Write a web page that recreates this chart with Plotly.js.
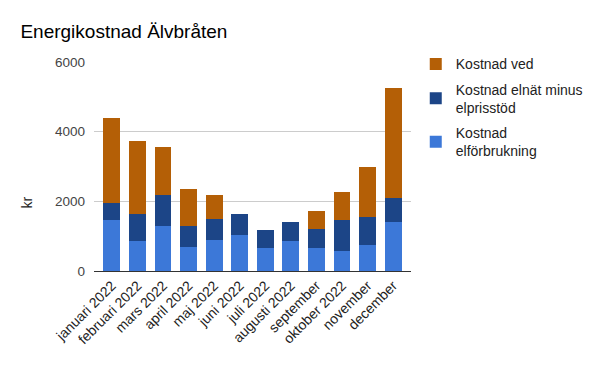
<!DOCTYPE html>
<html><head><meta charset="utf-8">
<script src="https://cdn.plot.ly/plotly-3.0.1.min.js"></script>
<style>body{margin:0;}#chart{width:600px;height:371px;}</style>
</head><body><div id="chart"></div>
<script>
const months = ["januari 2022","februari 2022","mars 2022","april 2022","maj 2022","juni 2022","juli 2022","augusti 2022","september","oktober 2022","november","december"];
const elforbrukning = [1467, 863, 1295, 690, 892, 1036, 662, 863, 662, 575, 748, 1410];
const elnat = [489, 777, 892, 605, 604, 604, 518, 547, 546, 892, 806, 690];
const ved = [2446, 2100, 1380, 1064, 691, 0, 0, 0, 518, 806, 1438, 3165];
const seriesNames = ["Kostnad<br>elförbrukning", "Kostnad elnät minus<br>elprisstöd", "Kostnad ved"];
const colors = ["#3c78d8", "#1c4587", "#b45f06"];

const data = [elforbrukning, elnat, ved].map((v, i) => ({
  type: "bar", x: months, y: v, name: seriesNames[i], legendgroup: "g" + i, legendrank: 3 - i,
  marker: {color: colors[i]}, hoverinfo: "none"
}));

Plotly.newPlot("chart", data, {
  width: 600, height: 371,
  barmode: "stack", bargap: 0.34,
  margin: {l: 94, r: 187, t: 62, b: 100},
  paper_bgcolor: "#fff", plot_bgcolor: "#fff",
  font: {family: "Liberation Sans, Arial, sans-serif", color: "#222", size: 14},
  title: {text: "Energikostnad Älvbråten", x: 0.034, xanchor: "left", y: 0.915, yanchor: "middle",
          font: {size: 19, color: "#000"}},
  xaxis: {type: "category", range: [-0.7, 11.7], tickangle: -45, showline: true, linecolor: "#333", linewidth: 1,
          ticks: "", tickfont: {size: 14, color: "#222"}, showgrid: false},
  yaxis: {range: [0, 6000], tickvals: [0, 2000, 4000, 6000], ticktext: ["0","2000","4000","6000"],
          gridcolor: "#ccc", zeroline: false, ticks: "", ticklabelstandoff: 8, tickfont: {size: 13.5, color: "#444"}},
  annotations: [{text: "kr", xref: "paper", yref: "paper", x: -0.21, y: 0.33, textangle: -90,
                 showarrow: false, font: {size: 14, color: "#222"}, xanchor: "center", yanchor: "middle"}],
  legend: {x: 1.015, xanchor: "left", y: 1.065, yanchor: "top", traceorder: "grouped",
           font: {size: 14, color: "#222"}, itemclick: false, tracegroupgap: 4},
  showlegend: true
}, {displayModeBar: false, staticPlot: true});
</script></body></html>
